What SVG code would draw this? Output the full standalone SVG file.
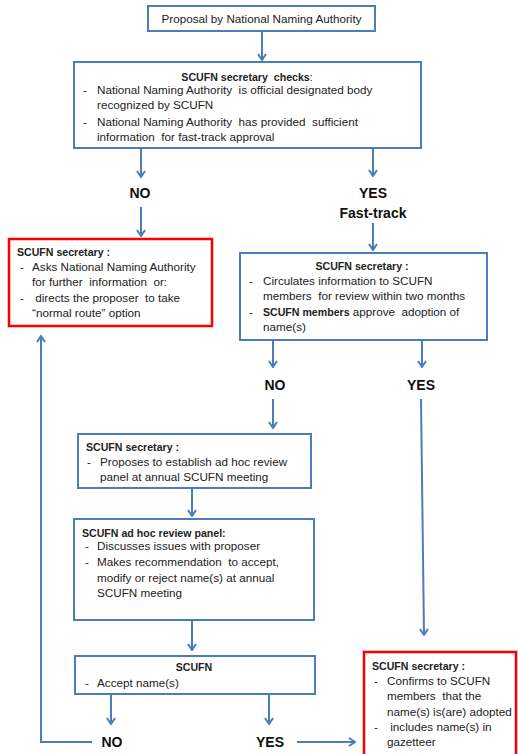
<svg xmlns="http://www.w3.org/2000/svg" width="518" height="754" viewBox="0 0 518 754">
<defs>
<style>
.box{fill:#fff;stroke:#4a7ebb;stroke-width:2}
.rbox{fill:#fff;stroke:#ff0000;stroke-width:2.5}
.t{font-family:"Liberation Sans",Arial,sans-serif;font-size:11.7px;fill:#222;white-space:pre}
.b{font-weight:bold;font-size:10.6px}
.lbl{font-family:"Liberation Sans",Arial,sans-serif;font-size:14px;font-weight:bold;fill:#111}
.c{text-anchor:middle}
.con{stroke:#4a7ebb;stroke-width:2;fill:none}
.ar{marker-end:url(#arr)}
</style>
<marker id="arr" markerUnits="userSpaceOnUse" viewBox="0 0 10 10" refX="9" refY="5" markerWidth="10" markerHeight="10" orient="auto">
<path d="M3,1 L9,5 L3,9" fill="none" stroke="#4a7ebb" stroke-width="2"/>
</marker>
</defs>
<rect width="518" height="754" fill="#fff"/>
<g id="connectors">
<line class="con ar" x1="262" y1="31" x2="262" y2="60"/>
<line class="con ar" x1="141" y1="148" x2="141" y2="177"/>
<line class="con ar" x1="373" y1="148" x2="373" y2="176"/>
<line class="con ar" x1="141" y1="207" x2="141" y2="236"/>
<line class="con ar" x1="373" y1="223" x2="373" y2="250"/>
<line class="con ar" x1="273" y1="340" x2="273" y2="367"/>
<line class="con ar" x1="422" y1="340" x2="422" y2="367"/>
<line class="con ar" x1="273" y1="399" x2="273" y2="428"/>
<line class="con ar" x1="421" y1="399" x2="424" y2="635"/>
<line class="con ar" x1="192" y1="488" x2="192" y2="516"/>
<line class="con ar" x1="192" y1="620" x2="192" y2="650"/>
<line class="con ar" x1="111" y1="694" x2="111" y2="724"/>
<line class="con ar" x1="269" y1="694" x2="269" y2="724"/>
<polyline class="con ar" points="92,742 41,742 41,336"/>
<line class="con ar" x1="297" y1="742" x2="355" y2="742"/>
</g>
<g id="labels">
<text class="lbl c" x="140" y="198">NO</text>
<text class="lbl c" x="373" y="198">YES</text>
<text class="lbl c" x="373" y="218">Fast-track</text>
<text class="lbl c" x="275" y="390">NO</text>
<text class="lbl c" x="421" y="390">YES</text>
<text class="lbl c" x="112" y="747">NO</text>
<text class="lbl c" x="270" y="747">YES</text>
</g>
<g id="proposal">
<rect class="box" x="148" y="6" width="227" height="25"/>
<text class="t c" x="261.5" y="23">Proposal by National Naming Authority</text>
</g>
<g id="checks">
<rect class="box" x="74" y="62" width="347" height="86"/>
<text class="t b c" x="247" y="81">SCUFN secretary  checks<tspan font-weight="normal">:</tspan></text>
<text class="t" x="83" y="94">-</text>
<text class="t" x="97" y="94">National Naming Authority  is official designated body</text>
<text class="t" x="97" y="109">recognized by SCUFN</text>
<text class="t" x="83" y="126">-</text>
<text class="t" x="97" y="126">National Naming Authority  has provided  sufficient</text>
<text class="t" x="97" y="141">information  for fast-track approval</text>
</g>
<g id="secretary-no">
<rect class="rbox" x="9" y="239" width="203" height="87"/>
<text class="t b" x="17" y="256">SCUFN secretary :</text>
<text class="t" x="20" y="271">-</text>
<text class="t" x="32" y="271">Asks National Naming Authority</text>
<text class="t" x="32" y="286">for further  information  or:</text>
<text class="t" x="20" y="302">-</text>
<text class="t" x="32" y="302"> directs the proposer  to take</text>
<text class="t" x="32" y="317">“normal route” option</text>
</g>
<g id="secretary-fasttrack">
<rect class="box" x="240" y="253" width="247" height="87"/>
<text class="t b c" x="362" y="270">SCUFN secretary :</text>
<text class="t" x="249" y="285">-</text>
<text class="t" x="263" y="285">Circulates information to SCUFN</text>
<text class="t" x="263" y="300">members  for review within two months</text>
<text class="t" x="249" y="316">-</text>
<text class="t" x="263" y="316"><tspan class="b">SCUFN members</tspan> approve  adoption of</text>
<text class="t" x="263" y="331">name(s)</text>
</g>
<g id="secretary-proposes">
<rect class="box" x="78" y="434" width="233" height="54"/>
<text class="t b" x="86" y="451">SCUFN secretary :</text>
<text class="t" x="87" y="466">-</text>
<text class="t" x="100" y="466">Proposes to establish ad hoc review</text>
<text class="t" x="100" y="481">panel at annual SCUFN meeting</text>
</g>
<g id="review-panel">
<rect class="box" x="74" y="519" width="240" height="101"/>
<text class="t b" x="82" y="537">SCUFN ad hoc review panel:</text>
<text class="t" x="85" y="550">-</text>
<text class="t" x="97" y="550">Discusses issues with proposer</text>
<text class="t" x="85" y="566">-</text>
<text class="t" x="97" y="566">Makes recommendation  to accept,</text>
<text class="t" x="97" y="582">modify or reject name(s) at annual</text>
<text class="t" x="97" y="597">SCUFN meeting</text>
</g>
<g id="scufn">
<rect class="box" x="75" y="656" width="240" height="38"/>
<text class="t b c" x="194" y="671">SCUFN</text>
<text class="t" x="85" y="687">-</text>
<text class="t" x="97" y="687">Accept name(s)</text>
</g>
<g id="secretary-confirms">
<rect class="rbox" x="364" y="652" width="152" height="110"/>
<text class="t b" x="372" y="670">SCUFN secretary :</text>
<text class="t" x="374" y="685">-</text>
<text class="t" x="387" y="685">Confirms to SCUFN</text>
<text class="t" x="387" y="700">members  that the</text>
<text class="t" x="387" y="716">name(s) is(are) adopted</text>
<text class="t" x="374" y="731">-</text>
<text class="t" x="387" y="731"> includes name(s) in</text>
<text class="t" x="387" y="746">gazetteer</text>
</g>
</svg>
